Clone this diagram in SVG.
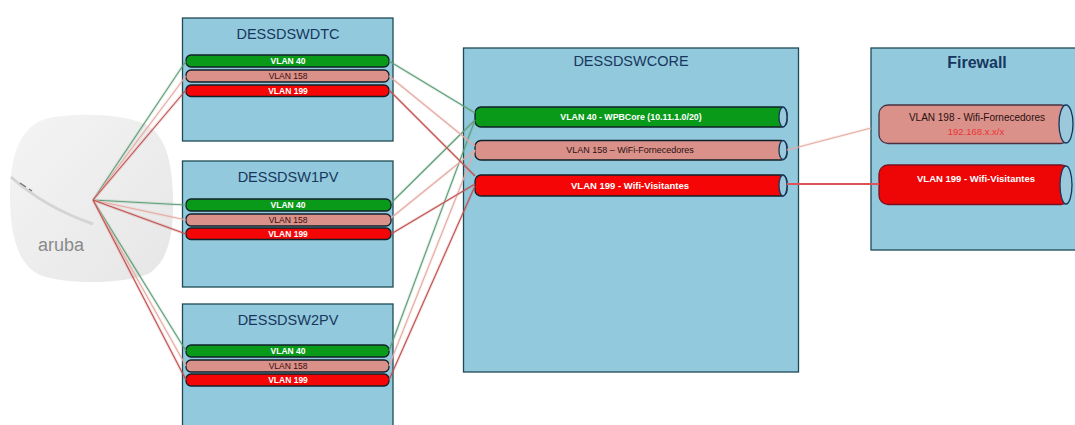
<svg xmlns="http://www.w3.org/2000/svg" width="1075" height="425" viewBox="0 0 1075 425">
<style>
text{font-family:"Liberation Sans",Arial,sans-serif;text-anchor:middle}
.box{fill:#92c9dc;stroke:#1f4a55;stroke-width:1.3}
.title{font-size:14.500px;fill:#17375e}
.g{fill:#0a9a1a}.s{fill:#d9918a}.r{fill:#f50505}
.bar{stroke:#10202a;stroke-width:1.3}
.cap{fill:#9cc8dc;stroke:#17375e;stroke-width:1.3}
.w{fill:#fff;font-size:8.500px;font-weight:bold}
.k{fill:#3a0d0d;font-size:8.500px}
.cw{fill:#fff;font-size:8.800px;font-weight:bold}
.ck{fill:#2a1010;font-size:9px}
.lg,.ls,.lr{fill:none}
.lg{stroke:#5f9f78}.ls{stroke:#e6aaa2}.lr{stroke:#c2504f}
</style>
<defs>
<linearGradient id="ap" x1="0" y1="0" x2="1" y2="1"><stop offset="0" stop-color="#f4f4f4"/><stop offset="1" stop-color="#e6e6e6"/></linearGradient>
<g id="lines">
<path class="lg" d="M93 200L186 61M93 200L186 205M93 200L186 351"/>
<path class="ls" d="M93 200L186 76M93 200L186 220M93 200L186 366"/>
<path class="lr" d="M93 200L186 90M93 200L186 234M93 200L186 380"/>
<path class="lg" d="M389 61L475 113M391 203L475 120M389 351L475 120"/>
<path class="ls" d="M389 76L475 146M391 218L475 150M389 366L475 150"/>
<path class="lr" d="M389 90L475 176M391 234L475 184M389 380L475 186"/>
<path class="ls" d="M787 150L871 128"/>
</g>
</defs>
<rect width="1075" height="425" fill="#fff"/>
<g id="ap-aruba">
<path d="M62 116C90 113 125 115 145 124C165 134 172 160 173 196C174 235 168 262 148 274C125 284 65 285 40 275C18 265 10 235 10 196C10 160 18 135 35 124C42 119 52 117 62 116Z" fill="url(#ap)"/>
<path d="M11 177C40 203 70 216 93 224" fill="none" stroke="#d4d4d4" stroke-width="3"/>
<path d="M20 183L26 187M29 189L32 191" stroke="#777" stroke-width="1.500"/>
<text x="61" y="251" font-size="18" fill="#8a8a8a">aruba</text>
</g>
<g id="dessdswdtc">
<rect class="box" x="182.500" y="18" width="210.500" height="123"/>
<text class="title" x="288" y="38.500">DESSDSWDTC</text>
<rect class="bar g" x="186" y="55" width="203" height="12" rx="5"/><text class="w" x="288" y="64">VLAN 40</text>
<rect class="bar s" x="186" y="70" width="203" height="12" rx="5"/><text class="k" x="288" y="79">VLAN 158</text>
<rect class="bar r" x="186" y="85" width="203" height="11.500" rx="5"/><text class="w" x="288" y="94">VLAN 199</text>
</g>
<g id="dessdsw1pv">
<rect class="box" x="182.500" y="161" width="210.500" height="126"/>
<text class="title" x="288" y="182">DESSDSW1PV</text>
<rect class="bar g" x="186" y="199" width="205" height="12" rx="5"/><text class="w" x="288" y="208">VLAN 40</text>
<rect class="bar s" x="186" y="214" width="205" height="12" rx="5"/><text class="k" x="288" y="223">VLAN 158</text>
<rect class="bar r" x="186" y="228" width="205" height="11.500" rx="5"/><text class="w" x="288" y="237">VLAN 199</text>
</g>
<g id="dessdsw2pv">
<rect class="box" x="182.500" y="304" width="210.500" height="125"/>
<text class="title" x="288" y="325">DESSDSW2PV</text>
<rect class="bar g" x="186" y="345" width="203" height="12" rx="5"/><text class="w" x="288" y="354">VLAN 40</text>
<rect class="bar s" x="186" y="360" width="203" height="12" rx="5"/><text class="k" x="288" y="369">VLAN 158</text>
<rect class="bar r" x="186" y="374" width="203" height="12" rx="5"/><text class="w" x="288" y="383">VLAN 199</text>
</g>
<g id="dessdswcore">
<rect class="box" x="463.500" y="48" width="335" height="324"/>
<text class="title" x="631" y="66">DESSDSWCORE</text>
<rect class="bar g" x="475" y="107" width="312" height="20" rx="6" stroke="#0b5a1a"/><ellipse class="cap" cx="783" cy="117" rx="4" ry="10"/><text class="cw" x="631" y="120">VLAN 40 - WPBCore (10.11.1.0/20)</text>
<rect class="bar s" x="475" y="140.500" width="312" height="19.500" rx="6"/><ellipse class="cap" cx="783" cy="150" rx="4" ry="9.500"/><text class="ck" x="630" y="153">VLAN 158 – WiFi-Fornecedores</text>
<rect class="bar r" x="475" y="175" width="312" height="21" rx="6"/><ellipse class="cap" cx="783" cy="185.500" rx="4" ry="10.500"/><text class="cw" x="630" y="189" style="font-size:9.500px">VLAN 199 - Wifi-Visitantes</text>
</g>
<g id="firewall">
<rect class="box" x="871" y="48" width="206" height="202"/>
<text class="title" x="977" y="68" font-weight="bold" style="font-size:16px">Firewall</text>
<rect x="879" y="105" width="191" height="38.500" rx="9" fill="#d9918a" stroke="#4a3040" stroke-width="1.300"/><ellipse class="cap" cx="1066" cy="124" rx="7" ry="19"/><text class="ck" x="977" y="121" style="font-size:10px">VLAN 198 - Wifi-Fornecedores</text><text x="976" y="134.500" font-size="9.500" fill="#ee3333">192.168.x.x/x</text>
<rect x="879" y="165" width="191" height="39.500" rx="9" fill="#ee0505" stroke="#7a1020" stroke-width="1.300"/><ellipse class="cap" cx="1066" cy="185" rx="6" ry="19"/><text class="cw" x="976" y="181.500" style="font-size:9.500px">VLAN 199 - Wifi-Visitantes</text>
</g>
<g id="connectors">
<use href="#lines" stroke-width="3" opacity=".18"/>
<use href="#lines" stroke-width="1.100"/>
<path d="M787 184L879 184" fill="none" stroke="#e0525a" stroke-width="1.800"/>
</g>
</svg>
